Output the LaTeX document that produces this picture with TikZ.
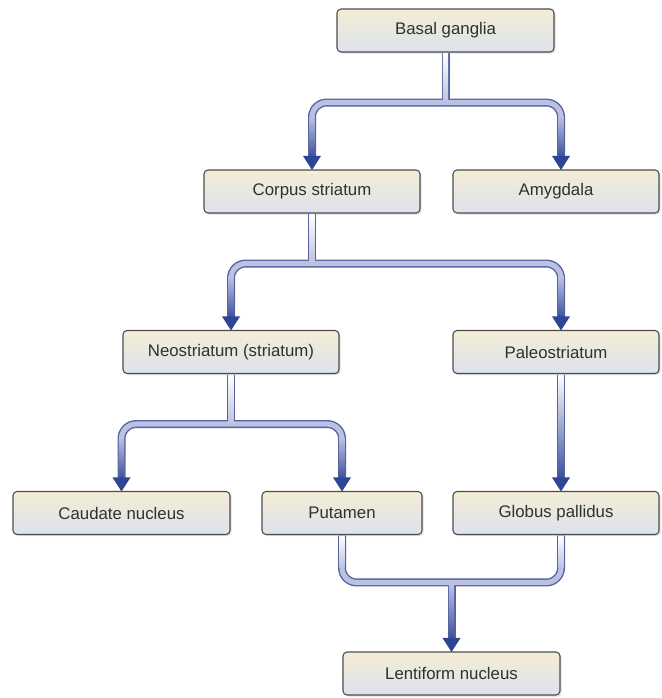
\documentclass[tikz,border=0pt]{standalone}
\usepackage{fontspec}
\setmainfont{Liberation Sans}
\usetikzlibrary{calc,shadows}
\definecolor{tubeb}{HTML}{56629E}
\definecolor{tubei}{HTML}{BCC1E3}
\definecolor{tubed}{HTML}{3A4E9E}
\definecolor{arrc}{HTML}{2E4494}
\definecolor{boxtop}{HTML}{F4EDD5}
\definecolor{boxbot}{HTML}{DCE2EE}
\definecolor{boxline}{HTML}{4D4D4D}
\definecolor{txt}{HTML}{303030}
\begin{document}
\begin{tikzpicture}[x=0.75pt,y=-0.75pt,
  box/.style={rectangle, rounded corners=3pt, draw=boxline, line width=0.8pt,
    top color=boxtop, bottom color=boxbot, minimum height=32.25pt, inner sep=0pt,
    text=txt, font=\fontsize{12.6}{14}\selectfont,
    drop shadow={opacity=0.25, shadow xshift=1.2pt, shadow yshift=-1.2pt}},
  tubeout/.style={draw=tubeb, line width=6pt, rounded corners=11pt},
  tubein/.style={draw=tubei, line width=3.9pt, rounded corners=11pt},
  arrowhd/.style={fill=arrc}
]
\useasboundingbox (0,0) rectangle (661,698);

% boxes
\node[box, minimum width=162.75pt] (bg) at (445.5,30.5) {Basal ganglia};
\node[box, minimum width=162pt]    (cs) at (312,191.5) {Corpus striatum};
\node[box, minimum width=154.5pt]  (am) at (556,191.5) {Amygdala};
\node[box, minimum width=162pt]    (ns) at (231,352) {Neostriatum (striatum)};
\node[box, minimum width=154.5pt]  (ps) at (556,352) {Paleostriatum};
\node[box, minimum width=162.75pt] (cn) at (121.5,513) {Caudate nucleus};
\node[box, minimum width=120pt]    (pu) at (342,513) {Putamen};
\node[box, minimum width=154.5pt]  (gp) at (556,513) {Globus pallidus};
\node[box, minimum width=162.75pt] (lf) at (451.5,673.5) {Lentiform nucleus};

% junctions
\coordinate (rc) at (561,0);
\coordinate (j1) at ($(bg.south)+(0,50)$);
\coordinate (j2) at ($(cs.south)+(0,50)$);
\coordinate (j3) at ($(ns.south)+(0,50)$);
\coordinate (j4) at ($(lf.north)+(0,-69)$);
\coordinate (aam) at (rc |- am.north);
\coordinate (aps) at (rc |- ps.north);
\coordinate (agp) at (rc |- gp.north);
\coordinate (sps) at (rc |- ps.south);
\coordinate (sgp) at (rc |- gp.south);

% tubes: borders first, then inner
\foreach \lay in {tubeout,tubein}{
  \draw[\lay] ($(bg.south)+(0,0.6)$) -- (j1);
  \draw[\lay] (j1) -| ($(cs.north)+(0,-12)$);
  \draw[\lay] (j1) -| ($(aam)+(0,-12)$);
  \draw[\lay] ($(cs.south)+(0,0.6)$) -- (j2);
  \draw[\lay] (j2) -| ($(ns.north)+(0,-12)$);
  \draw[\lay] (j2) -| ($(aps)+(0,-12)$);
  \draw[\lay] ($(ns.south)+(0,0.6)$) -- (j3);
  \draw[\lay] (j3) -| ($(cn.north)+(0,-12)$);
  \draw[\lay] (j3) -| ($(pu.north)+(0,-12)$);
  \draw[\lay] ($(sps)+(0,0.6)$) -- ($(agp)+(0,-12)$);
  \draw[\lay] ($(pu.south)+(0,0.6)$) |- (sgp |- j4) -- ($(sgp)+(0,0.6)$);
  \draw[\lay] (j4) -- ($(lf.north)+(0,-12)$);
}

% gradient inside the tubes
\shade[top color=white, bottom color=tubei] ($(bg.south)+(-2.6,1)$) rectangle ($(j1)+(2.6,0)$);
\shade[top color=white, bottom color=tubei] ($(cs.south)+(-2.6,1)$) rectangle ($(j2)+(2.6,0)$);
\shade[top color=white, bottom color=tubei] ($(ns.south)+(-2.6,1)$) rectangle ($(j3)+(2.6,0)$);
\shade[top color=white, middle color=tubei, bottom color=tubed] ($(sps)+(-2.6,1)$) rectangle ($(agp)+(2.6,-12)$);
\shade[top color=white, bottom color=tubei] ($(pu.south)+(-2.6,1)$) rectangle ($(pu.south |- j4)+(2.6,-15)$);
\shade[top color=white, bottom color=tubei] ($(sgp)+(-2.6,1)$) rectangle ($(sgp |- j4)+(2.6,-15)$);
\shade[top color=tubei, bottom color=tubed] ($(j4)+(-2.6,2.6)$) rectangle ($(lf.north)+(2.6,-12)$);
\foreach \t in {cs.north, aam, ns.north, aps, cn.north, pu.north}{
  \shade[top color=tubei, bottom color=tubed] ($(\t)+(-2.6,-53)$) rectangle ($(\t)+(2.6,-12)$);
}

% arrowheads
\foreach \t in {cs.north, aam, ns.north, aps, cn.north, pu.north, agp, lf.north}{
  \fill[arrowhd] ($(\t)+(0,0.5)$) -- ++(-9,-14) -- ++(18,0) -- cycle;
}
\end{tikzpicture}
\end{document}
